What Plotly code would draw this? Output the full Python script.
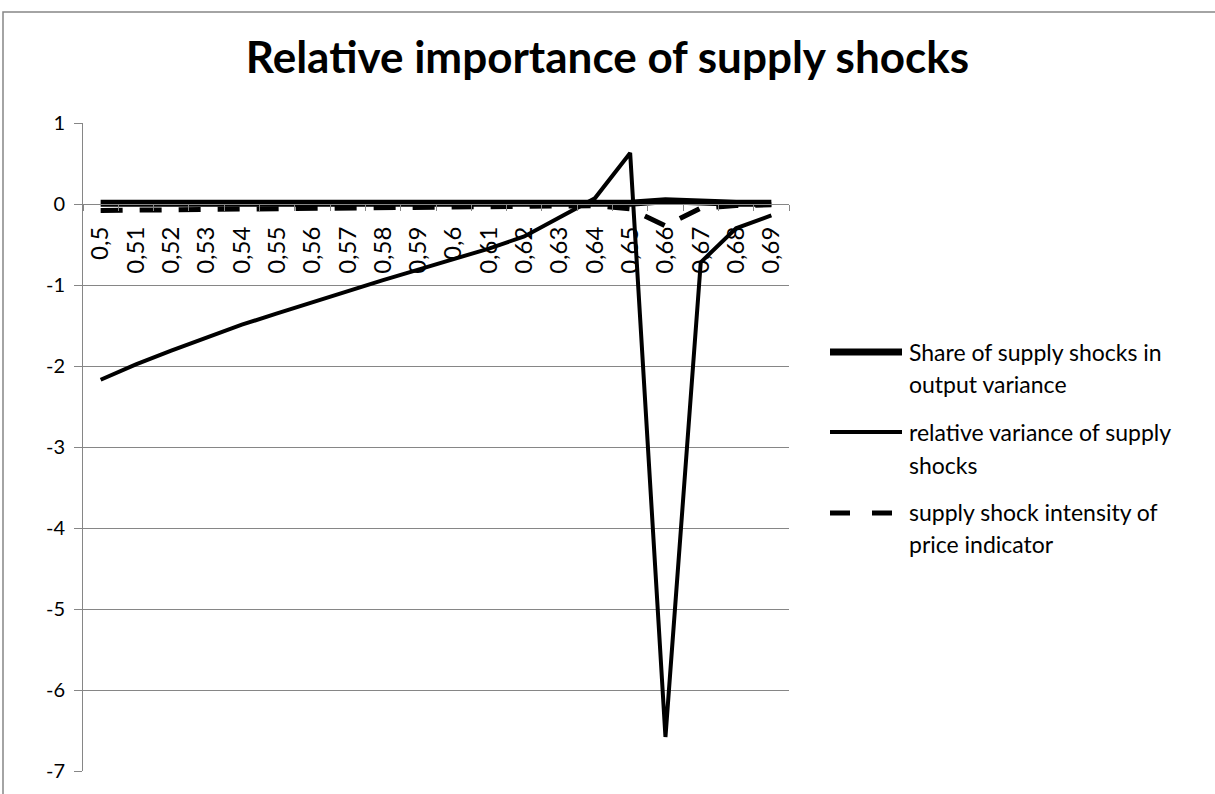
import plotly.graph_objects as go

categories = ["0,5", "0,51", "0,52", "0,53", "0,54", "0,55", "0,56", "0,57", "0,58", "0,59",
              "0,6", "0,61", "0,62", "0,63", "0,64", "0,65", "0,66", "0,67", "0,68", "0,69"]

share_output_variance = [0.01, 0.01, 0.01, 0.01, 0.01, 0.01, 0.01, 0.01, 0.01, 0.01,
                         0.01, 0.01, 0.01, 0.01, 0.01, 0.01, 0.04, 0.02, 0.01, 0.01]

relative_variance = [-2.17, -1.98, -1.81, -1.65, -1.49, -1.35, -1.21, -1.07, -0.94, -0.81,
                     -0.68, -0.55, -0.40, -0.17, 0.07, 0.63, -6.58, -0.72, -0.30, -0.14]

price_intensity = [-0.08, -0.075, -0.07, -0.065, -0.06, -0.055, -0.05, -0.045, -0.04, -0.035,
                   -0.03, -0.025, -0.02, -0.02, -0.02, -0.06, -0.27, -0.05, -0.02, -0.01]

y_tick_values = [1, 0, -1, -2, -3, -4, -5, -6, -7]
y_tick_labels = ["1", "0", "-1", "-2", "-3", "-4", "-5", "-6", "-7"]

series_names = ["Share of supply shocks in<br>output variance",
                "relative variance of supply<br>shocks",
                "supply shock intensity of<br>price indicator"]

W, H = 1215, 794
L, R, T, B = 83, 789, 123, 771
FONT = "Lato"
GRAY = "#868686"


def px_x(x):
    return (x - L) / (R - L)


def px_y(y):
    return (B - y) / (B - T)


fig = go.Figure()
fig.add_trace(go.Scatter(x=categories, y=share_output_variance, mode="lines",
                         line=dict(color="black", width=7), showlegend=False,
                         name="Share of supply shocks in output variance"))
fig.add_trace(go.Scatter(x=categories, y=relative_variance, mode="lines",
                         line=dict(color="black", width=4), showlegend=False,
                         name="relative variance of supply shocks"))
fig.add_trace(go.Scatter(x=categories, y=price_intensity, mode="lines",
                         line=dict(color="black", width=5, dash="22px,17px"), showlegend=False,
                         name="supply shock intensity of price indicator"))

shapes = []
annotations = []
# outer chart border
shapes.append(dict(type="rect", xref="paper", yref="paper",
                   x0=px_x(3), x1=px_x(1400), y0=px_y(1000), y1=px_y(12),
                   line=dict(color=GRAY, width=1.5), fillcolor="rgba(0,0,0,0)", layer="below"))

# manual legend
leg_styles = [dict(width=7, dash="solid"), dict(width=4, dash="solid"), dict(width=5, dash="20px,22px")]
leg_line_y = [352, 432, 513]
leg_text_y = [(352, 384), (432, 465), (512, 544)]
for name, st, ly, ty in zip(series_names, leg_styles, leg_line_y, leg_text_y):
    shapes.append(dict(type="line", xref="paper", yref="paper",
                       x0=px_x(830), x1=px_x(902), y0=px_y(ly), y1=px_y(ly),
                       line=dict(color="black", width=st["width"], dash=st["dash"])))
    parts = name.split("<br>")
    for part, yy in zip(parts, ty):
        annotations.append(dict(xref="paper", yref="paper", x=px_x(907), y=px_y(yy),
                                xanchor="left", yanchor="middle", text=part, showarrow=False,
                                font=dict(family=FONT, size=23, color="black")))

fig.update_layout(
    width=W, height=H,
    margin=dict(l=L, r=W - R, t=T, b=H - B, pad=0),
    paper_bgcolor="white", plot_bgcolor="white",
    title=dict(text="<b>Relative importance of supply shocks</b>", x=0.5, xanchor="center",
               y=1 - 58 / H, yanchor="middle", yref="container",
               font=dict(family=FONT, size=44, color="black")),
    font=dict(family=FONT, color="black"),
    showlegend=False,
    shapes=shapes,
    annotations=annotations,
    xaxis=dict(type="category", anchor="free", position=7 / 8,
               range=[-0.5, len(categories) - 0.5],
               showline=True, linecolor=GRAY, linewidth=1,
               ticks="outside", ticklen=6, tickcolor=GRAY, tickson="boundaries",
               showgrid=False, zeroline=False, tickangle=-90, ticklabelstandoff=12,
               tickfont=dict(family=FONT, size=24, color="black")),
    yaxis=dict(range=[-7, 1], tickmode="array", tickvals=y_tick_values, ticktext=y_tick_labels,
               showline=True, linecolor=GRAY, linewidth=1,
               ticks="outside", ticklen=8, tickcolor=GRAY,
               showgrid=True, gridcolor=GRAY, gridwidth=1, zeroline=False,
               tickfont=dict(family=FONT, size=20, color="black"), ticklabelstandoff=5),
)

fig.write_html("out.html", config={"displayModeBar": False},
               post_script="document.body.style.margin='0';document.body.style.padding='0';")
